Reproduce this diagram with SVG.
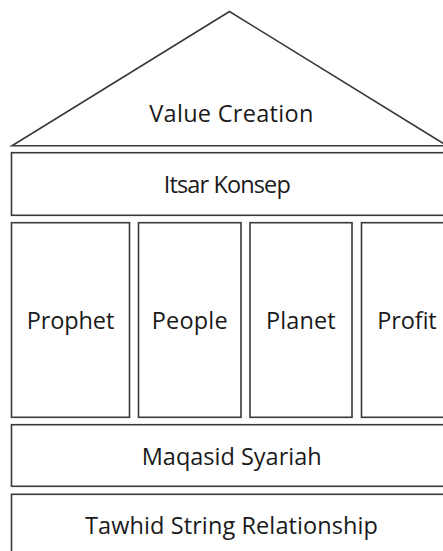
<svg xmlns="http://www.w3.org/2000/svg" width="443" height="551" viewBox="0 0 443 551">
<style>
.s{fill:#ffffff;stroke:#3a3a3a;stroke-width:1.6}
.t{font-family:"Open Sans",Lato,"Liberation Sans",sans-serif;font-size:23.5px;fill:#1a1a1a;text-anchor:middle}
</style>
<rect width="443" height="551" fill="#ffffff"/>
<g id="roof">
<polygon class="s" points="229.5,11.5 12,145.7 447,145.7"/>
<text class="t" x="231.3" y="121.7" textLength="164">Value Creation</text>
</g>
<g id="itsar">
<rect class="s" x="11.5" y="152.7" width="440" height="62.6"/>
<text class="t" x="227.3" y="193.3" textLength="127">Itsar Konsep</text>
</g>
<g id="prophet">
<rect class="s" x="11.5" y="222.7" width="118" height="194.6"/>
<text class="t" x="70.5" y="329.3" textLength="87.6">Prophet</text>
</g>
<g id="people">
<rect class="s" x="138.5" y="222.7" width="102.5" height="194.6"/>
<text class="t" x="189.7" y="329.3" textLength="76">People</text>
</g>
<g id="planet">
<rect class="s" x="250" y="222.7" width="102" height="194.6"/>
<text class="t" x="300.8" y="329.3" textLength="69.7">Planet</text>
</g>
<g id="profit">
<rect class="s" x="361.5" y="222.7" width="91" height="194.6"/>
<text class="t" x="407" y="329.3" textLength="59.4">Profit</text>
</g>
<g id="maqasid">
<rect class="s" x="11.5" y="424.7" width="440" height="61.6"/>
<text class="t" x="231.7" y="465" textLength="180">Maqasid Syariah</text>
</g>
<g id="tawhid">
<rect class="s" x="11.5" y="494.3" width="440" height="70"/>
<text class="t" x="231.5" y="534.3" textLength="293">Tawhid String Relationship</text>
</g>
<g id="connectors"/>
</svg>
